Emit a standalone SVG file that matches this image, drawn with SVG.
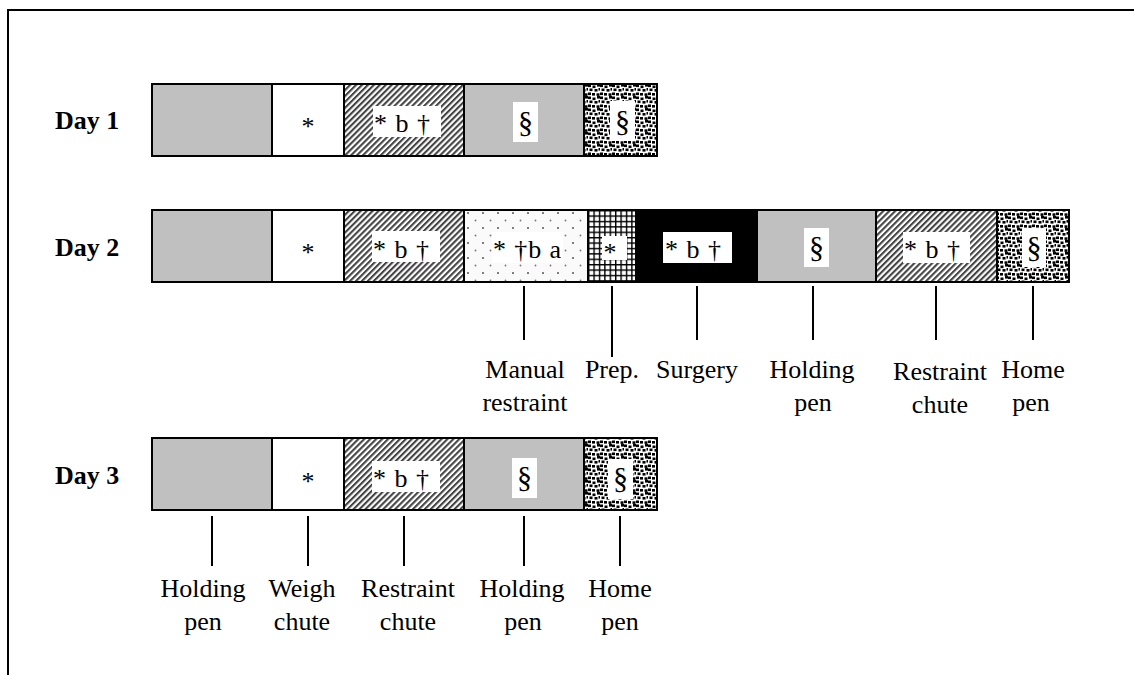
<svg xmlns="http://www.w3.org/2000/svg" width="1134" height="675" viewBox="0 0 1134 675">
<style>
.seg{stroke:#000;stroke-width:2}
.gray{fill:#c0c0c0}
.white{fill:#fff}
.black{fill:#000}
.hatch{fill:url(#hatch)}
.speck{fill:url(#speck)}
.dots{fill:url(#dots)}
.grid{fill:url(#grid)}
.box{fill:#fff;stroke:none}
.in{font-family:"Liberation Serif","Times New Roman",serif;font-size:26px;fill:#000}
.sec{font-family:"Liberation Serif","Times New Roman",serif;font-size:30px;fill:#000;text-anchor:middle}
.lab{font-family:"Liberation Serif","Times New Roman",serif;font-size:26px;fill:#000;text-anchor:middle}
.day{font-family:"Liberation Serif","Times New Roman",serif;font-size:26px;font-weight:bold;fill:#000}
.mid{text-anchor:middle}
.tick{stroke:#000;stroke-width:2;fill:none}
.frame{stroke:#000;stroke-width:2;fill:none}
</style>
<defs>
<pattern id="hatch" patternUnits="userSpaceOnUse" width="4.2" height="4.2" patternTransform="rotate(45)">
<rect width="4.2" height="4.2" fill="#fff"/>
<rect width="2.1" height="4.2" fill="#444"/>
</pattern>
<pattern id="speck" patternUnits="userSpaceOnUse" width="12" height="12">
<rect width="12" height="12" fill="#fff"/>
<rect x="0" y="0.5" width="3" height="2.6" fill="#000"/>
<rect x="4.5" y="1.5" width="3" height="2.6" fill="#000"/>
<rect x="9" y="0" width="3" height="2.6" fill="#000"/>
<rect x="1.5" y="4.5" width="3" height="2.6" fill="#000"/>
<rect x="6.5" y="5" width="3" height="2.6" fill="#000"/>
<rect x="10.5" y="4" width="1.5" height="2.6" fill="#000"/>
<rect x="0" y="8.5" width="3" height="2.6" fill="#000"/>
<rect x="4" y="9" width="3" height="2.6" fill="#000"/>
<rect x="8.5" y="9.3" width="3" height="2.6" fill="#000"/>
</pattern>
<pattern id="dots" patternUnits="userSpaceOnUse" width="15" height="15">
<rect width="15" height="15" fill="#fafafa"/>
<circle cx="3" cy="3" r="1" fill="#555"/>
<circle cx="10.5" cy="10.5" r="0.9" fill="#777"/>
</pattern>
<pattern id="grid" patternUnits="userSpaceOnUse" width="5.4" height="5.4" x="588" y="210">
<rect width="5.4" height="5.4" fill="#fff"/>
<rect width="5.4" height="1.4" fill="#000"/>
<rect width="1.4" height="5.4" fill="#000"/>
</pattern>
</defs>

<path class="frame" d="M8,675 L8,10 L1134,10"/>

<text class="day" x="55" y="129">Day 1</text>
<text class="day" x="55" y="256">Day 2</text>
<text class="day" x="55" y="484">Day 3</text>

<!-- Day 1 -->
<g id="d1-holding"><rect class="seg gray" x="152" y="84" width="120" height="72"/></g>
<g id="d1-weigh"><rect class="seg white" x="272" y="84" width="72" height="72"/><text class="in mid" x="308" y="135">*</text></g>
<g id="d1-restraint"><rect class="seg hatch" x="344" y="84" width="120" height="72"/><rect class="box" x="373" y="106" width="68" height="31"/><text class="in" x="374" y="132" textLength="56" lengthAdjust="spacing">* b †</text></g>
<g id="d1-holding2"><rect class="seg gray" x="464" y="84" width="120" height="72"/><rect class="box" x="513" y="102" width="25" height="40"/><text class="sec" x="525.5" y="132">§</text></g>
<g id="d1-home"><rect class="seg speck" x="584" y="84" width="73" height="72"/><rect class="box" x="610" y="101" width="25" height="40"/><text class="sec" x="622.5" y="131">§</text></g>

<!-- Day 2 -->
<g id="d2-holding"><rect class="seg gray" x="152" y="210" width="120" height="72"/></g>
<g id="d2-weigh"><rect class="seg white" x="272" y="210" width="72" height="72"/><text class="in mid" x="308" y="261">*</text></g>
<g id="d2-restraint"><rect class="seg hatch" x="344" y="210" width="120" height="72"/><rect class="box" x="372" y="231" width="68" height="31"/><text class="in" x="373" y="258" textLength="56" lengthAdjust="spacing">* b †</text></g>
<g id="d2-manual"><rect class="seg dots" x="464" y="210" width="124" height="72"/><rect class="box" x="492" y="232" width="71" height="31"/><text class="in" x="493" y="258" textLength="68" lengthAdjust="spacing">* †b a</text></g>
<g id="d2-prep"><rect class="seg grid" x="588" y="210" width="48" height="72"/><rect class="box" x="602" y="236" width="25" height="24"/><text class="in mid" x="610" y="261">*</text></g>
<g id="d2-surgery"><rect class="seg black" x="636" y="210" width="121" height="72"/><rect class="box" x="663" y="232" width="69" height="31"/><text class="in" x="665" y="258" textLength="56" lengthAdjust="spacing">* b †</text></g>
<g id="d2-holding2"><rect class="seg gray" x="757" y="210" width="119" height="72"/><rect class="box" x="804" y="228" width="25" height="39"/><text class="sec" x="816.5" y="257">§</text></g>
<g id="d2-restraint2"><rect class="seg hatch" x="876" y="210" width="121" height="72"/><rect class="box" x="903" y="232" width="67" height="31"/><text class="in" x="904" y="258" textLength="56" lengthAdjust="spacing">* b †</text></g>
<g id="d2-home"><rect class="seg speck" x="997" y="210" width="72" height="72"/><rect class="box" x="1022" y="228" width="24" height="39"/><text class="sec" x="1034" y="257">§</text></g>

<!-- Day 3 -->
<g id="d3-holding"><rect class="seg gray" x="152" y="438" width="120" height="72"/></g>
<g id="d3-weigh"><rect class="seg white" x="272" y="438" width="72" height="72"/><text class="in mid" x="308" y="490">*</text></g>
<g id="d3-restraint"><rect class="seg hatch" x="344" y="438" width="120" height="72"/><rect class="box" x="372" y="461" width="68" height="31"/><text class="in" x="373" y="487" textLength="56" lengthAdjust="spacing">* b †</text></g>
<g id="d3-holding2"><rect class="seg gray" x="464" y="438" width="120" height="72"/><rect class="box" x="512" y="458" width="25" height="40"/><text class="sec" x="524.5" y="487">§</text></g>
<g id="d3-home"><rect class="seg speck" x="584" y="438" width="73" height="72"/><rect class="box" x="608" y="459" width="25" height="40"/><text class="sec" x="620.5" y="488">§</text></g>

<g id="connectors">
<line class="tick" x1="524" y1="286" x2="524" y2="340"/>
<line class="tick" x1="612" y1="286" x2="612" y2="357"/>
<line class="tick" x1="697" y1="286" x2="697" y2="340"/>
<line class="tick" x1="813" y1="286" x2="813" y2="340"/>
<line class="tick" x1="936" y1="286" x2="936" y2="340"/>
<line class="tick" x1="1033" y1="286" x2="1033" y2="340"/>
<line class="tick" x1="212" y1="516" x2="212" y2="566"/>
<line class="tick" x1="308" y1="516" x2="308" y2="566"/>
<line class="tick" x1="404" y1="516" x2="404" y2="566"/>
<line class="tick" x1="524" y1="516" x2="524" y2="566"/>
<line class="tick" x1="620" y1="516" x2="620" y2="566"/>
</g>

<g id="labels-day2">
<text class="lab" x="525" y="378">Manual</text>
<text class="lab" x="525" y="411">restraint</text>
<text class="lab" x="612" y="378">Prep.</text>
<text class="lab" x="697" y="378">Surgery</text>
<text class="lab" x="812" y="378">Holding</text>
<text class="lab" x="813" y="411">pen</text>
<text class="lab" x="940" y="380">Restraint</text>
<text class="lab" x="940" y="413">chute</text>
<text class="lab" x="1033" y="378">Home</text>
<text class="lab" x="1031" y="411">pen</text>
</g>
<g id="labels-day3">
<text class="lab" x="203" y="597">Holding</text>
<text class="lab" x="203" y="630">pen</text>
<text class="lab" x="302" y="597">Weigh</text>
<text class="lab" x="302" y="630">chute</text>
<text class="lab" x="408" y="597">Restraint</text>
<text class="lab" x="408" y="630">chute</text>
<text class="lab" x="522" y="597">Holding</text>
<text class="lab" x="523" y="630">pen</text>
<text class="lab" x="620" y="597">Home</text>
<text class="lab" x="620" y="630">pen</text>
</g>
</svg>
